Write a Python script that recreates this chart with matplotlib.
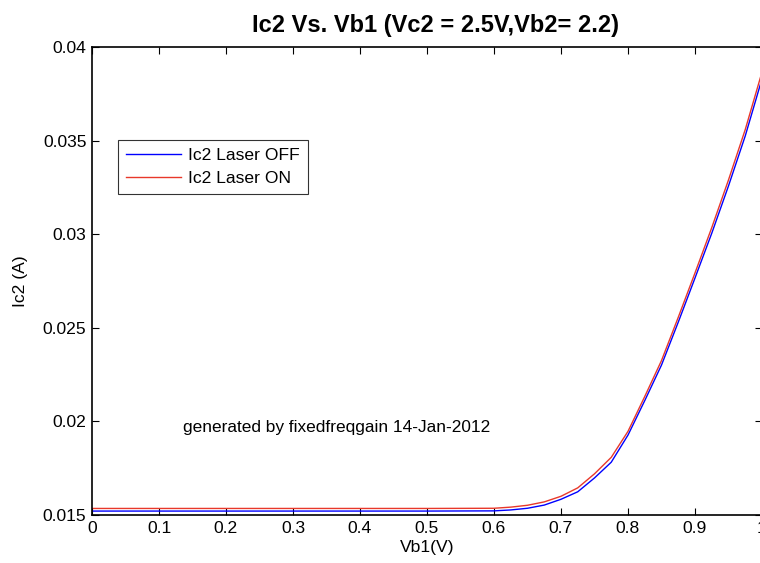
import matplotlib
matplotlib.use("Agg")
import matplotlib.pyplot as plt

plt.rcParams['font.family'] = ['Liberation Sans', 'DejaVu Sans']

vb1 = [0.0, 0.1, 0.2, 0.3, 0.4, 0.5, 0.6, 0.625, 0.65, 0.675, 0.7, 0.725, 0.75,
       0.775, 0.8, 0.825, 0.85, 0.875, 0.9, 0.925, 0.95, 0.975, 1.0]
ic2_off = [0.01521, 0.01521, 0.01521, 0.01521, 0.01521, 0.01521, 0.01522, 0.01527,
           0.01536, 0.01553, 0.01584, 0.01624, 0.01698, 0.01782, 0.01927, 0.02111,
           0.02301, 0.02530, 0.02766, 0.03005, 0.03258, 0.03525, 0.03830]
ic2_on = [0.01535, 0.01535, 0.01535, 0.01535, 0.01535, 0.01535, 0.01536, 0.01542,
          0.01552, 0.01570, 0.01600, 0.01645, 0.01720, 0.01808, 0.01947, 0.02133,
          0.02325, 0.02556, 0.02793, 0.03035, 0.03290, 0.03559, 0.03866]
xticks = [0, 0.1, 0.2, 0.3, 0.4, 0.5, 0.6, 0.7, 0.8, 0.9, 1]
xticklabels = ['0', '0.1', '0.2', '0.3', '0.4', '0.5', '0.6', '0.7', '0.8', '0.9', '1']
yticks = [0.015, 0.02, 0.025, 0.03, 0.035, 0.04]
yticklabels = ['0.015', '0.02', '0.025', '0.03', '0.035', '0.04']

FS = 12.6

fig = plt.figure(figsize=(7.6, 5.63), dpi=100)
ax = fig.add_axes([92/760, 1-515/563, 670/760, 468/563])

ax.plot(vb1, ic2_off, color='#0000ff', lw=1.0, label='Ic2 Laser OFF')
ax.plot(vb1, ic2_on, color='#e8382a', lw=1.0, label='Ic2 Laser ON')

ax.set_xlim(0, 1)
ax.set_ylim(0.015, 0.04)
ax.set_xticks(xticks)
ax.set_xticklabels(xticklabels)
ax.set_yticks(yticks)
ax.set_yticklabels(yticklabels)
ax.tick_params(direction='in', top=True, right=True, length=5, width=0.8,
               labelsize=FS, pad=4)
for s in ax.spines.values():
    s.set_linewidth(1.2)

ax.set_title('Ic2 Vs. Vb1 (Vc2 = 2.5V,Vb2= 2.2)', fontsize=17,
             fontweight='bold', pad=11, x=(436-92)/670)
ax.set_xlabel('Vb1(V)', fontsize=FS, labelpad=3)
ax.set_ylabel('Ic2 (A)', fontsize=FS, labelpad=11)

ax.text(0.136, 0.0197, 'generated by fixedfreqgain 14-Jan-2012', fontsize=12.4,
        ha='left', va='center')

leg = ax.legend(loc='upper left', bbox_to_anchor=(26/670, (515-140)/468),
                borderaxespad=0, fontsize=FS, frameon=True, fancybox=False,
                handlelength=3.15, handletextpad=0.4, labelspacing=0.45,
                borderpad=0.45)
leg.get_frame().set_edgecolor('black')
leg.get_frame().set_linewidth(0.8)

fig.savefig('out.png', dpi=100)
